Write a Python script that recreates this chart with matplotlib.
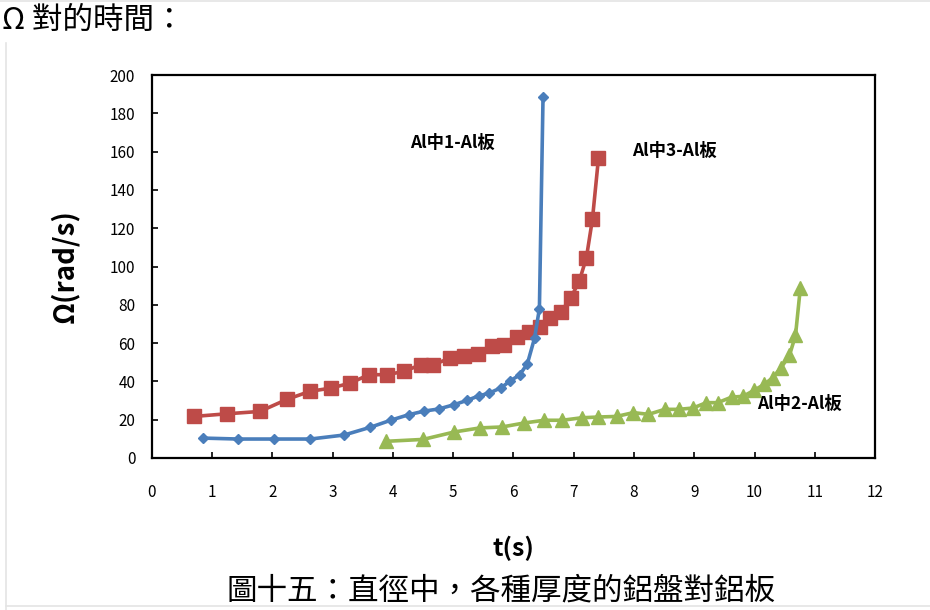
import matplotlib
matplotlib.use('Agg')
import matplotlib.pyplot as plt
from matplotlib.lines import Line2D

plt.rcParams['font.family'] = ['Noto Sans CJK TC', 'DejaVu Sans']

# Al中1-Al板 (blue diamonds)
t1 = [0.84, 1.43, 2.03, 2.63, 3.19, 3.62, 3.97, 4.26, 4.52, 4.76, 5.01,
      5.23, 5.42, 5.60, 5.80, 5.95, 6.10, 6.23, 6.35, 6.43, 6.49]
w1 = [10.4, 9.9, 9.9, 9.9, 12.0, 16.0, 19.8, 22.6, 24.5, 25.6, 27.8,
      30.1, 32.4, 33.9, 36.8, 40.4, 43.3, 49.2, 62.7, 78.0, 188.3]

# Al中3-Al板 (red squares)
t3 = [0.70, 1.25, 1.79, 2.24, 2.62, 2.97, 3.29, 3.60, 3.90, 4.18, 4.46,
      4.67, 4.94, 5.18, 5.41, 5.65, 5.85, 6.05, 6.25, 6.44, 6.61, 6.79,
      6.95, 7.09, 7.21, 7.31, 7.41]
w3 = [21.7, 23.1, 24.3, 30.6, 34.8, 36.5, 39.1, 43.5, 43.5, 45.2, 48.7,
      48.7, 52.1, 53.1, 54.5, 58.3, 59.0, 63.3, 65.8, 68.4, 73.3, 76.3,
      83.6, 92.2, 104.6, 124.7, 156.5]

# Al中2-Al板 (green triangles)
t2 = [3.88, 4.50, 5.02, 5.44, 5.81, 6.18, 6.51, 6.81, 7.13, 7.41, 7.71,
      7.99, 8.24, 8.51, 8.74, 8.98, 9.20, 9.39, 9.62, 9.81, 9.99, 10.16,
      10.30, 10.44, 10.58, 10.68, 10.76]
w2 = [8.7, 9.7, 13.6, 15.7, 16.2, 18.3, 19.7, 19.7, 21.0, 21.4, 21.7,
      23.7, 22.8, 25.4, 25.4, 26.1, 28.9, 28.9, 31.8, 32.2, 35.3, 38.4,
      41.9, 47.1, 53.6, 64.0, 88.7]

labels = ['Al中1-Al板', 'Al中3-Al板', 'Al中2-Al板']
label_pos = [(4.99, 164.5), (8.67, 160.3), (10.75, 28.2)]

blue = '#4A7EBB'
red = '#BE4B48'
green = '#98B954'

fig = plt.figure(figsize=(9.3, 6.1), dpi=100)
ax = fig.add_axes([0.1634, 0.2492, 0.7775, 0.6278])

ax.plot(t3, w3, color=red, lw=2.6, marker='s', ms=10.5, mec=red, zorder=3)
ax.plot(t2, w2, color=green, lw=2.6, marker='^', ms=10.5, mec=green, zorder=2)
ax.plot(t1, w1, color=blue, lw=2.6, marker='D', ms=5, mec=blue, zorder=4)

for lab, (x, y) in zip(labels, label_pos):
    ax.text(x, y, lab, ha='center', va='center', fontsize=12.5,
            fontweight='bold', color='black', zorder=5)

ax.set_xlim(0, 12)
ax.set_ylim(0, 200)
ax.set_xticks(range(0, 13))
ax.set_yticks(range(0, 201, 20))
ax.tick_params(direction='in', length=4, width=1.2, labelsize=11)
ax.tick_params(axis='x', pad=19)
ax.tick_params(axis='y', pad=12)
for sp in ax.spines.values():
    sp.set_linewidth(1.6)
    sp.set_color('black')

ax.set_ylabel('Ω(rad/s)', fontsize=20, fontweight='bold', labelpad=22)
ax.set_xlabel('t(s)', fontsize=18, fontweight='bold', labelpad=25)

fig.text(0.002, 0.966, 'Ω 對的時間：', fontsize=22, ha='left', va='center',
         fontweight='light')
fig.text(0.539, 0.006, '圖十五：直徑中，各種厚度的鋁盤對鋁板', fontsize=22,
         ha='center', va='bottom', fontweight='light')

# faint page edges
fig.add_artist(Line2D([0.006, 0.006], [0.0, 0.93], color='#e4e4e4', lw=1.2))
fig.add_artist(Line2D([0.0, 1.0], [0.998, 0.998], color='#e4e4e4', lw=1.2))
fig.add_artist(Line2D([0.006, 1.0], [0.007, 0.007], color='#e4e4e4', lw=1.2))

fig.savefig('out.png', dpi=100)
